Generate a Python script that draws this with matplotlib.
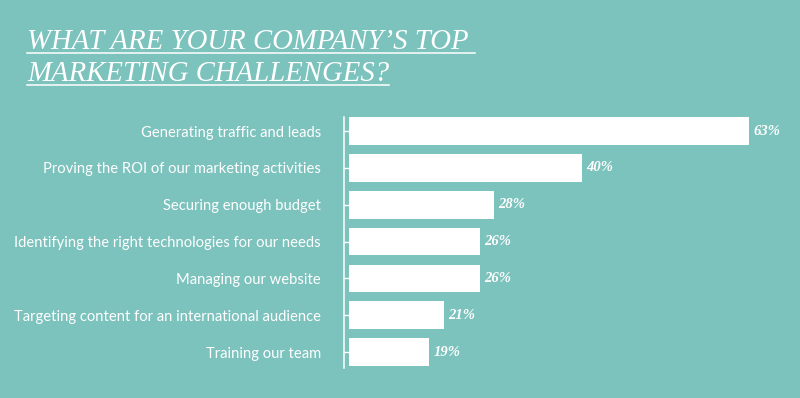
import matplotlib.pyplot as plt
from matplotlib.lines import Line2D

# survey answers, top to bottom
challenges = [
    'Generating traffic and leads',
    'Proving the ROI of our marketing activities',
    'Securing enough budget',
    'Identifying the right technologies for our needs',
    'Managing our website',
    'Targeting content for an international audience',
    'Training our team',
]
shares = [63, 40, 28, 26, 26, 21, 19]
title_lines = ['WHAT ARE YOUR COMPANY\u2019S TOP ', 'MARKETING CHALLENGES?']

bg = '#7cc2bd'
W, H = 800, 398
fig = plt.figure(figsize=(8, 3.98), dpi=100, facecolor=bg)

# axes placed in pixels
left, right, top, bottom = 349, 800, 117, 368
ax = fig.add_axes([left / W, (H - bottom) / H, (right - left) / W, (bottom - top) / H])
ax.set_facecolor('none')

y = list(range(len(challenges)))
ax.barh(y, shares, height=0.75, color='white', edgecolor='none')
ax.set_xlim(8, 8 + (right - left) * 55 / 400)
ax.set_ylim(6.43, -0.38)

for yi, v in zip(y, shares):
    ax.annotate(f'{v}%', (v, yi), xytext=(3, 0), textcoords='offset points',
                va='center', ha='left', color='white', fontsize=10.5,
                family='Liberation Serif', style='italic', weight='bold')

for s in ['top', 'right', 'bottom']:
    ax.spines[s].set_visible(False)
ax.spines['left'].set_position(('outward', 3.6))
ax.spines['left'].set_color('white')
ax.spines['left'].set_linewidth(1.1)
ax.set_xticks([])
ax.set_yticks(y)
ax.set_yticklabels(challenges, family='Lato', fontsize=10.6, color='white')
ax.tick_params(axis='y', direction='in', length=3.6, width=1.0, color='white', pad=16.6)

# title with underline
title_y = [49, 81]
texts = []
for line, ty in zip(title_lines, title_y):
    t = fig.text(27 / W, (H - ty) / H, line, family='Liberation Serif', style='italic',
                 fontsize=20.7, color='white', ha='left', va='baseline')
    texts.append(t)

fig.canvas.draw()
r = fig.canvas.get_renderer()
for t, ty in zip(texts, title_y):
    bb = t.get_window_extent(r)
    uy = (H - ty - 3.5) / H
    fig.add_artist(Line2D([bb.x0 / W, bb.x1 / W], [uy, uy], color='white', lw=1.1,
                          transform=fig.transFigure))

fig.savefig('out.png', dpi=100, facecolor=bg)
